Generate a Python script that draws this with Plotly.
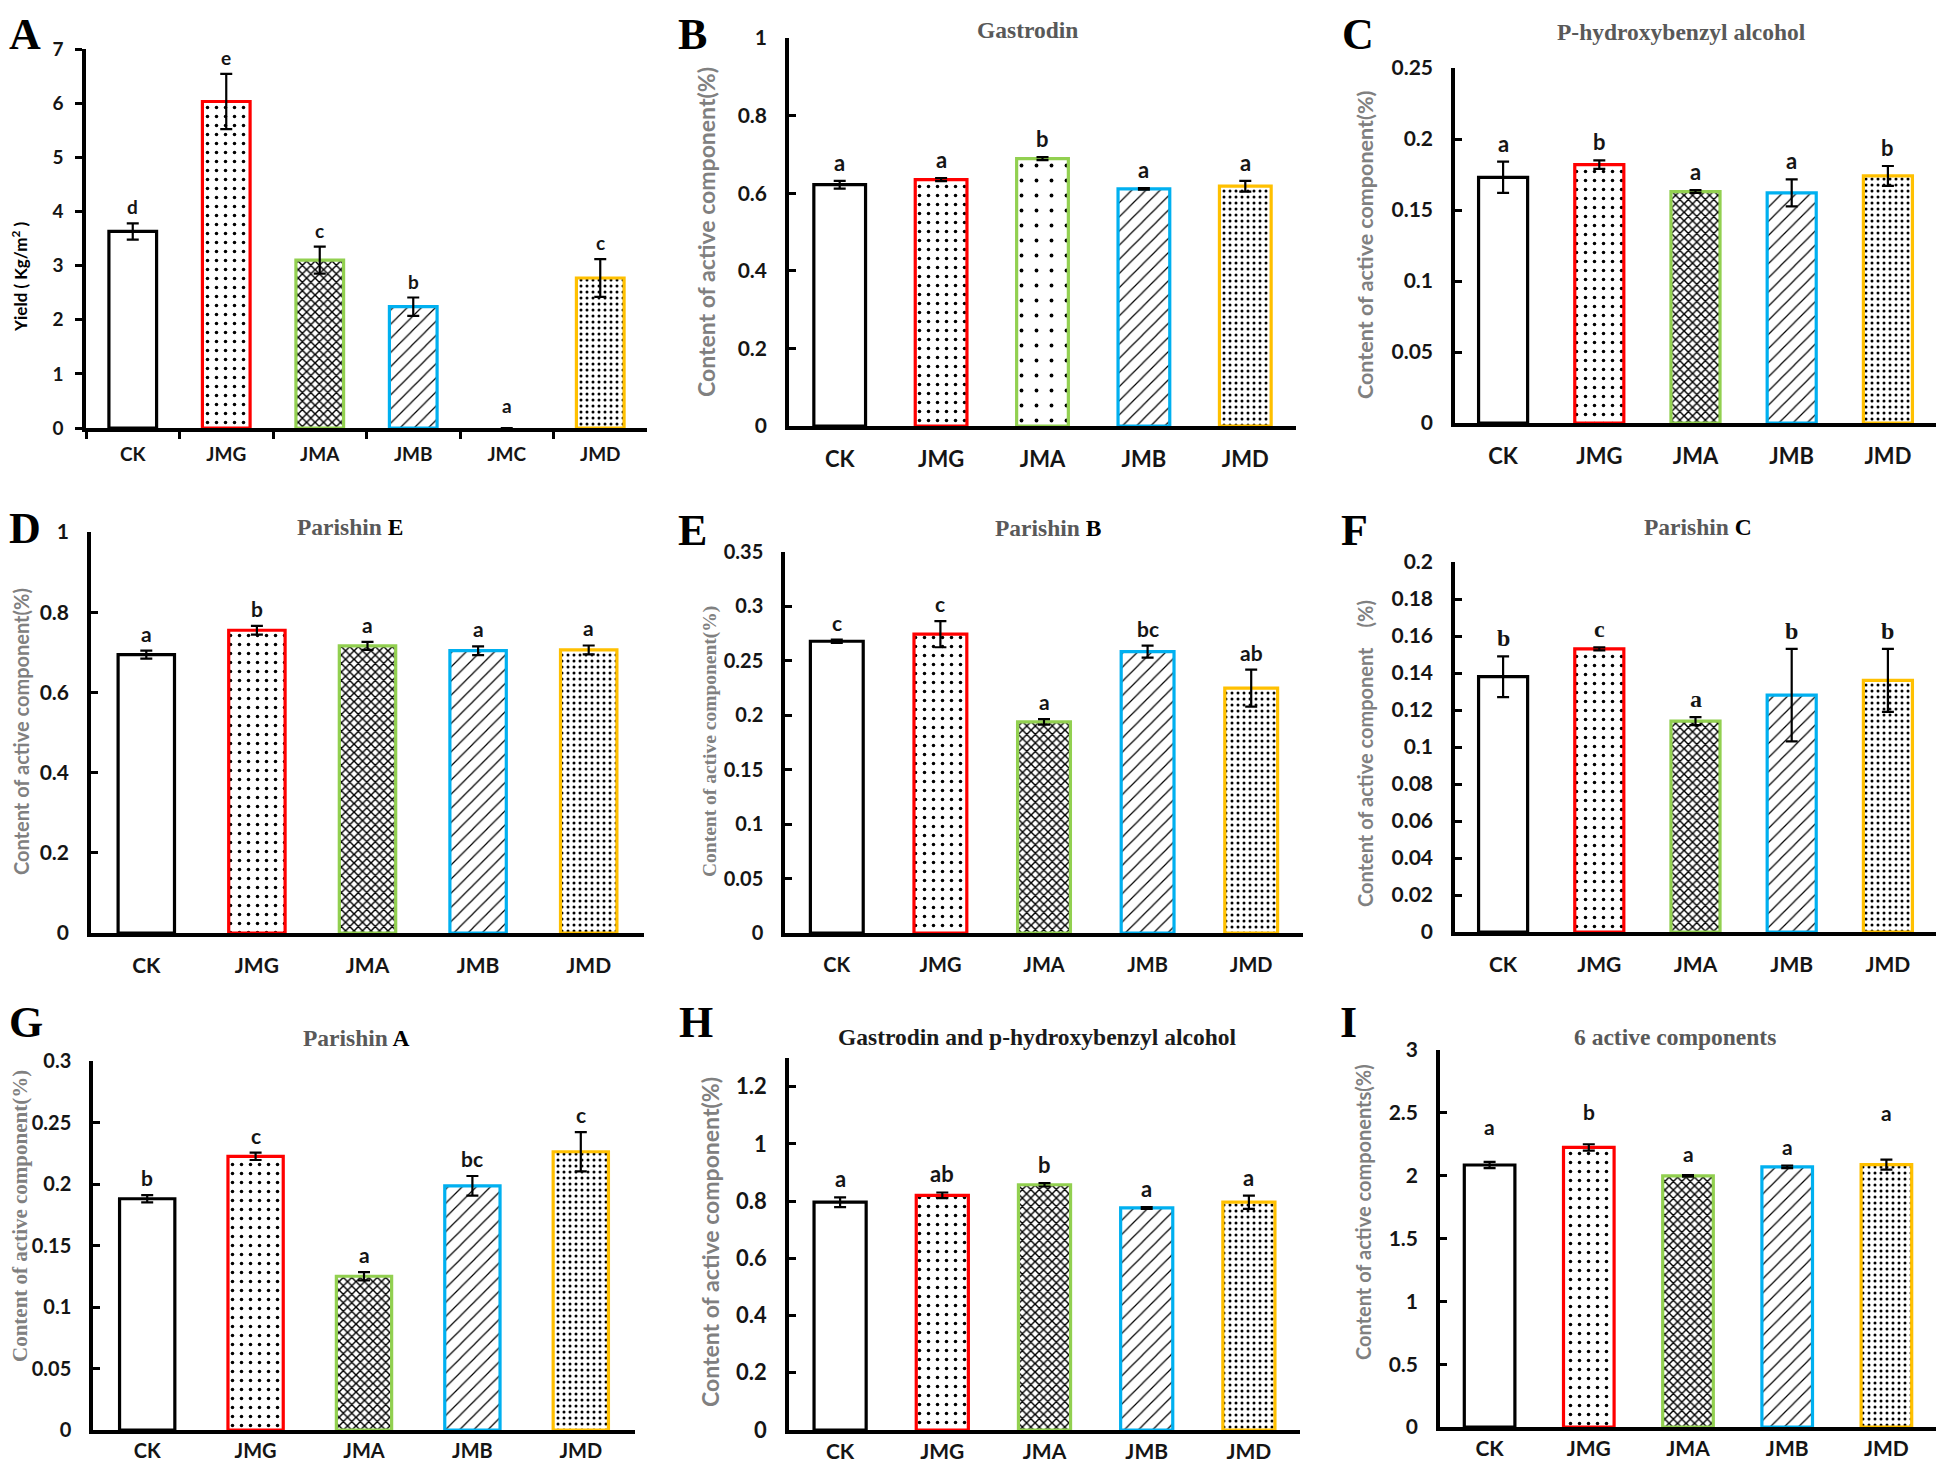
import plotly.graph_objects as go

# ---------------- data ----------------
CATS6 = ["CK", "JMG", "JMA", "JMB", "JMC", "JMD"]
CATS5 = ["CK", "JMG", "JMA", "JMB", "JMD"]

A_vals = [3.63, 6.03, 3.10, 2.24, 0.0, 2.77]
A_errs = [0.15, 0.51, 0.25, 0.17, 0.0, 0.35]
A_sig = ["d", "e", "c", "b", "a", "c"]

B_vals = [0.622, 0.635, 0.689, 0.611, 0.618]
B_errs = [0.010, 0.004, 0.004, 0.002, 0.014]
B_sig = ["a", "a", "b", "a", "a"]

C_vals = [0.173, 0.182, 0.163, 0.162, 0.174]
C_errs = [0.011, 0.003, 0.001, 0.0095, 0.007]
C_sig = ["a", "b", "a", "a", "b"]

D_vals = [0.694, 0.755, 0.716, 0.704, 0.706]
D_errs = [0.010, 0.011, 0.010, 0.011, 0.011]
D_sig = ["a", "b", "a", "a", "a"]

E_vals = [0.268, 0.2745, 0.194, 0.2585, 0.225]
E_errs = [0.0015, 0.012, 0.0025, 0.0055, 0.017]
E_sig = ["c", "c", "a", "bc", "ab"]

F_vals = [0.138, 0.153, 0.114, 0.128, 0.136]
F_errs = [0.011, 0.0008, 0.0022, 0.025, 0.017]
F_sig = ["b", "c", "a", "b", "b"]

G_vals = [0.188, 0.2225, 0.125, 0.1985, 0.2262]
G_errs = [0.003, 0.003, 0.0033, 0.008, 0.016]
G_sig = ["b", "c", "a", "bc", "c"]

H_vals = [0.796, 0.820, 0.857, 0.776, 0.796]
H_errs = [0.017, 0.010, 0.006, 0.003, 0.023]
H_sig = ["a", "ab", "b", "a", "a"]

I_vals = [2.085, 2.225, 1.998, 2.070, 2.088]
I_errs = [0.025, 0.025, 0.006, 0.010, 0.040]
I_sig = ["a", "b", "a", "a", "a"]
I_sig_height = [2.39, 2.51, 2.18, 2.23, 2.50]

# ---------------- styles ----------------
PAGE_W, PAGE_H = 1944, 1474
OFF = 8                      # default <body> margin of the written page
W, H = PAGE_W - 2 * OFF, PAGE_H - 2 * OFF


def px(x):
    return min(max((x - OFF) / W, 0.0), 1.0)


def py(y):
    return min(max(1 - (y - OFF) / H, 0.0), 1.0)


OUTLINE = {"CK": "#000000", "JMG": "#FF0000", "JMA": "#92D050",
           "JMB": "#00B0F0", "JMC": "#000000", "JMD": "#FFC000"}
PATTERN = {
    "CK": ("", 8, 0.2),
    "JMG": (".", 9, 0.12),
    "JMA": ("x", 6, 0.42),
    "JMB": ("/", 10, 0.12),
    "JMC": ("", 8, 0.2),
    "JMD": (".", 6, 0.2),
}
PATTERN_B_JMA = (".", 15, 0.05)

SANS = "Lato"
SERIF = "Liberation Serif"
GRAY_T = "#595959"
GRAY_Y = "#808080"
INK = "#151515"

panels = [
    dict(letter="A", cats=CATS6, vals=A_vals, errs=A_errs, sig=A_sig,
         dom=(86, 647, 49, 428), rng=(0, 7), dtick=1, tickfont=19, catfont=19,
         sigfont=19, sigserif=False, title=None, tpos=None, yticks="outside",
         ytitle="Yield ( Kg/m<sup>2</sup> )", yfont=(SANS, 17, "#000000"), ypos=(20, 277),
         lpos=(25, None), xticks=True, xstand=6),
    dict(letter="B", cats=CATS5, vals=B_vals, errs=B_errs, sig=B_sig,
         dom=(789, 1296, 38, 426), rng=(0, 1), dtick=0.2, tickfont=21, catfont=22,
         sigfont=22, sigserif=False, title="Gastrodin", tpos=(1027, 30), tcol=GRAY_T,
         ytitle="Content of active component(%)", yfont=(SANS, 23, GRAY_Y), ypos=(706, 232),
         lpos=(692, None), xticks=False, xstand=11),
    dict(letter="C", cats=CATS5, vals=C_vals, errs=C_errs, sig=C_sig,
         dom=(1455, 1936, 68, 423), rng=(0, 0.25), dtick=0.05, tickfont=21, catfont=22,
         sigfont=22, sigserif=False, title="P-hydroxybenzyl alcohol", tpos=(1681, 32), tcol=GRAY_T,
         ytitle="Content of active component(%)", yfont=(SANS, 21.5, GRAY_Y), ypos=(1365, 245),
         lpos=(1358, None), xticks=False, xstand=11),
    dict(letter="D", cats=CATS5, vals=D_vals, errs=D_errs, sig=D_sig,
         dom=(91, 644, 532, 933), rng=(0, 1), dtick=0.2, tickfont=21, catfont=21,
         sigfont=21, sigserif=False, title="Parishin <span style='color:#000000'>E</span>",
         tpos=(350, 527), tcol=GRAY_T,
         ytitle="Content of active component(%)", yfont=(SANS, 20, GRAY_Y), ypos=(21, 732),
         lpos=(25, 528), xticks=False, xstand=11),
    dict(letter="E", cats=CATS5, vals=E_vals, errs=E_errs, sig=E_sig,
         dom=(785, 1303, 552, 933), rng=(0, 0.35), dtick=0.05, tickfont=20, catfont=20,
         sigfont=21, sigserif=False, title="Parishin <span style='color:#000000'>B</span>",
         tpos=(1048, 528), tcol=GRAY_T,
         ytitle="<b>Content of active component(%)</b>", yfont=(SERIF, 19.5, GRAY_Y), ypos=(710, 742),
         lpos=(692, 530), xticks=False, xstand=11),
    dict(letter="F", cats=CATS5, vals=F_vals, errs=F_errs, sig=F_sig,
         dom=(1455, 1936, 562, 932), rng=(0, 0.2), dtick=0.02, tickfont=21, catfont=21,
         sigfont=24, sigserif=True, title="Parishin <span style='color:#000000'>C</span>",
         tpos=(1698, 527), tcol=GRAY_T,
         ytitle="Content of active component\u3000(%)", yfont=(SANS, 20, GRAY_Y), ypos=(1365, 754),
         lpos=(1354, 530), xticks=False, xstand=11),
    dict(letter="G", cats=CATS5, vals=G_vals, errs=G_errs, sig=G_sig,
         dom=(93, 635, 1061, 1430), rng=(0, 0.3), dtick=0.05, tickfont=20, catfont=20,
         sigfont=21, sigserif=False, title="Parishin <span style='color:#000000'>A</span>",
         tpos=(356, 1038), tcol=GRAY_T,
         ytitle="<b>Content of active component(%)</b>", yfont=(SERIF, 21, GRAY_Y), ypos=(20, 1216),
         lpos=(26, 1022), xticks=False, xstand=0),
    dict(letter="H", cats=CATS5, vals=H_vals, errs=H_errs, sig=H_sig,
         dom=(789, 1300, 1058, 1430), rng=(0, 1.3), dtick=0.2, tickfont=22, catfont=21,
         sigfont=22, sigserif=False, title="Gastrodin and p-hydroxybenzyl alcohol",
         tpos=(1037, 1037), tcol="#1A1A1A",
         ytitle="Content of active component(%)", yfont=(SANS, 23, GRAY_Y), ypos=(710, 1242),
         lpos=(696, 1022), xticks=False, tickmax=1.2, xstand=0),
    dict(letter="I", cats=CATS5, vals=I_vals, errs=I_errs, sig=I_sig,
         dom=(1440, 1936, 1050, 1427), rng=(0, 3), dtick=0.5, tickfont=21, catfont=21,
         sigfont=21, sigserif=False, title="6 active components", tpos=(1675, 1037), tcol=GRAY_T,
         ytitle="Content of active components(%)", yfont=(SANS, 20, GRAY_Y), ypos=(1363, 1212),
         lpos=(1348, 1022), xticks=False, sigy=I_sig_height, xstand=0),
]

fig = go.Figure()
annotations = []
layout = dict(width=W, height=H, margin=dict(l=0, r=0, t=0, b=0, pad=0, autoexpand=False),
              paper_bgcolor="white", plot_bgcolor="white", showlegend=False,
              bargap=0.49)

for i, p in enumerate(panels):
    n = i + 1
    xa = "x" if n == 1 else f"x{n}"
    ya = "y" if n == 1 else f"y{n}"
    x0, x1, yt, yb = p["dom"]
    shapes, sizes, sols = [], [], []
    for c in p["cats"]:
        pat = PATTERN[c]
        if p["letter"] == "B" and c == "JMA":
            pat = PATTERN_B_JMA
        shapes.append(pat[0]); sizes.append(pat[1]); sols.append(pat[2])
    fig.add_trace(go.Bar(
        x=p["cats"], y=p["vals"], xaxis=xa, yaxis=ya,
        marker=dict(color="white",
                    line=dict(color=[OUTLINE[c] for c in p["cats"]],
                              width=[0 if v == 0 else 3.2 for v in p["vals"]]),
                    pattern=dict(shape=shapes, size=sizes, solidity=sols,
                                 fgcolor="black", bgcolor="white", fillmode="replace")),
        error_y=dict(type="data", array=p["errs"], symmetric=True, color="black",
                     thickness=2.2, width=6, visible=True),
        hoverinfo="skip",
    ))
    key_x = "xaxis" if n == 1 else f"xaxis{n}"
    key_y = "yaxis" if n == 1 else f"yaxis{n}"
    layout[key_x] = dict(domain=[px(x0), px(x1)], anchor=ya, type="category",
                         automargin=False,
                         showline=True, linecolor="black", linewidth=3.5,
                         showgrid=False, zeroline=False,
                         ticks="outside" if p["xticks"] else "",
                         tickson="boundaries", ticklen=7, tickwidth=2.5, tickcolor="black",
                         tickfont=dict(family=SANS, size=p["catfont"], color=INK, weight="bold"),
                         ticklabelstandoff=p["xstand"],
                         range=[-0.5, len(p["cats"]) - 0.5], fixedrange=True)
    tmax = p.get("tickmax", p["rng"][1])
    nt = int(round(tmax / p["dtick"]))
    tv = [round(k * p["dtick"], 4) for k in range(nt + 1)]
    yticks = p.get("yticks", "inside")
    layout[key_y] = dict(domain=[py(yb), py(yt)], anchor=xa, range=list(p["rng"]),
                         automargin=False,
                         showline=True, linecolor="black", linewidth=3.5,
                         showgrid=False, zeroline=False, ticks=yticks, ticklen=7,
                         tickwidth=3, tickcolor="black", tickvals=tv,
                         ticktext=[f"{v:g}" for v in tv],
                         tickfont=dict(family=SANS, size=p["tickfont"], color=INK, weight="bold"),
                         ticklabelstandoff=8 if yticks == "outside" else 14, fixedrange=True)
    # significance letters
    fam = SERIF if p["sigserif"] else SANS
    sfont = dict(family=fam, size=p["sigfont"], color=INK, weight="bold")
    for j, c in enumerate(p["cats"]):
        if "sigy" in p:
            annotations.append(dict(x=c, y=p["sigy"][j], xref=xa, yref=ya, text=p["sig"][j],
                                    showarrow=False, yanchor="middle", font=sfont))
        else:
            top = p["vals"][j] + p["errs"][j]
            annotations.append(dict(x=c, y=top, xref=xa, yref=ya,
                                    text=p["sig"][j], showarrow=False, yanchor="bottom",
                                    yshift=3 if top > 0 else 9, font=sfont))
    # panel letter (top row hangs from the top edge)
    lx, ly = p["lpos"]
    annotations.append(dict(x=px(lx), y=1.0 if ly is None else py(ly), xref="paper", yref="paper",
                            text=f"<b>{p['letter']}</b>", showarrow=False, xanchor="center",
                            yanchor="top" if ly is None else "middle",
                            font=dict(family=SERIF, size=44, color="black")))
    # panel title
    if p["title"]:
        annotations.append(dict(x=px(p["tpos"][0]), y=py(p["tpos"][1]), xref="paper", yref="paper",
                                text=f"<b>{p['title']}</b>", showarrow=False, xanchor="center",
                                yanchor="middle", font=dict(family=SERIF, size=23.5, color=p["tcol"])))
    # y-axis title
    yfam, ysz, ycol = p["yfont"]
    annotations.append(dict(x=px(p["ypos"][0]), y=py(p["ypos"][1]), xref="paper", yref="paper",
                            text=p["ytitle"], showarrow=False, textangle=-90, xanchor="center",
                            yanchor="middle",
                            font=dict(family=yfam, size=ysz, color=ycol,
                                      weight="bold" if yfam == SANS else "normal")))

layout["annotations"] = annotations
fig.update_layout(**layout)
fig.write_html("out.html")
